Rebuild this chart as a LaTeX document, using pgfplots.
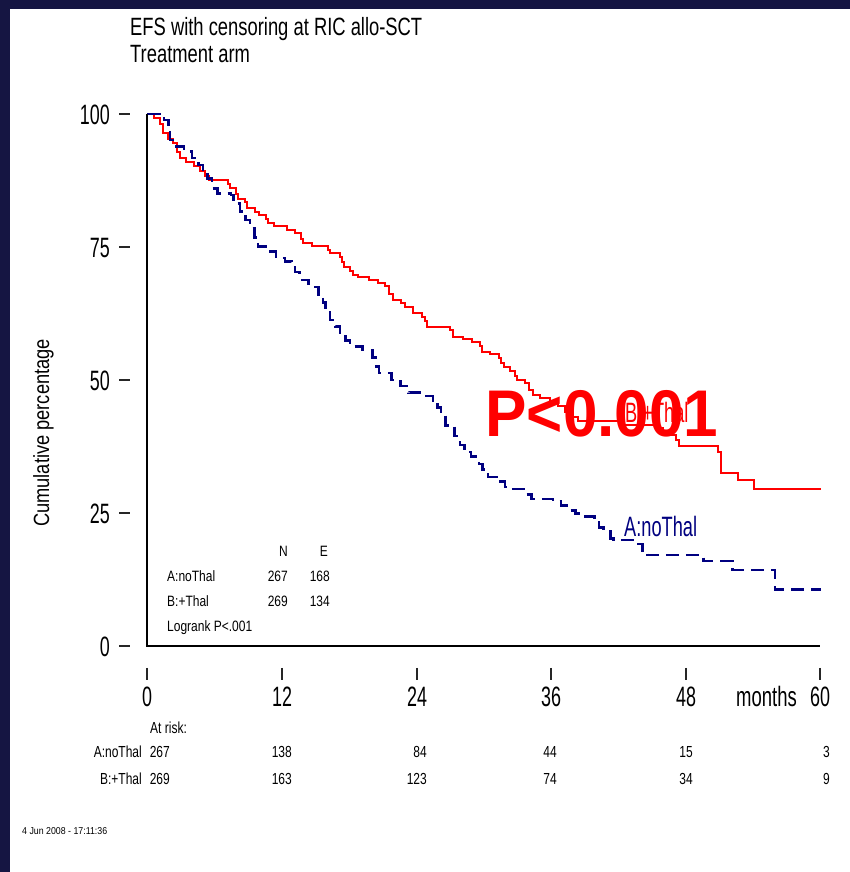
\documentclass[border=0pt]{standalone}
\usepackage{pgfplots}
\pgfplotsset{compat=1.18}
\usepackage{graphicx}
\usepackage{fontspec}
\setmainfont{Liberation Sans}

\definecolor{framecol}{RGB}{21,21,66}
\definecolor{armA}{RGB}{0,0,128}
\definecolor{armB}{RGB}{255,0,0}

% narrow text: size, horizontal squeeze, text
\newcommand{\nt}[3]{{\fontsize{#1}{#1}\selectfont\scalebox{#2}[1]{#3}}}

\begin{document}
\begin{tikzpicture}
\useasboundingbox (0pt,0pt) rectangle (850pt,872pt);
\begin{scope}[x=1pt,y=1pt]
\fill[framecol] (0,0) rectangle (850,872);
\fill[white] (10,0) rectangle (850,863);
\end{scope}

\begin{axis}[
  at={(147pt,226pt)}, anchor=south west,
  scale only axis, width=673pt, height=532pt,
  xmin=0, xmax=60, ymin=0, ymax=100,
  hide axis, clip=false,
]
% B:+Thal
\addplot[const plot, color=armB, line width=2pt] coordinates {
(0,100) (0.6,99.2) (1.2,98.2) (1.4,96.4) (1.9,95.3) (2.3,94.5) (2.7,92.8)
(2.9,91.7) (3.5,91.0) (4.2,90.2) (4.7,89.2) (5.2,88.3) (5.5,87.6) (7.2,86.9)
(7.4,86.0) (7.9,84.9) (8.1,84.1) (8.7,83.5) (8.9,82.3) (9.6,81.6) (10.0,81.0)
(10.6,80.3) (10.8,79.5) (11.3,78.9) (12.5,78.2) (13.2,77.6) (13.7,76.5)
(13.9,75.8) (14.7,75.2) (16.1,74.4) (16.3,73.8) (17.2,73.2) (17.4,72.2)
(17.6,71.3) (18.1,70.4) (18.4,69.8) (18.8,69.3) (19.8,68.8) (20.6,68.2)
(21.2,67.6) (21.6,66.2) (21.9,65.0) (22.6,64.4) (23.0,63.7) (23.7,62.5)
(24.5,61.8) (24.8,61.0) (25.0,60.0) (27.0,59.4) (27.3,58.1) (28.2,57.7)
(29.0,57.1) (29.7,56.3) (29.9,55.3) (30.6,54.8) (31.4,54.1) (31.6,53.2)
(31.8,52.4) (32.4,51.7) (32.8,50.8) (33.0,50.0) (33.7,49.4) (34.1,48.2)
(34.4,47.2) (35.0,46.6) (35.9,46.0) (36.6,45.1) (37.3,44.0) (38.0,43.0)
(38.4,42.2) (42.6,41.6) (45.5,40.9) (46.0,39.7) (47.2,38.7) (47.4,37.6)
(50.9,36.4) (51.2,32.5) (52.7,31.2) (54.1,29.5) (60.1,29.5)
};
% A:noThal
\addplot[const plot, color=armA, line width=2.6pt, dash pattern=on 13pt off 7pt] coordinates {
(0,100) (1.1,99.5) (1.5,98.9) (1.9,97.6) (2.05,95.1) (2.6,93.9) (3.3,93.0)
(4.0,91.7) (4.6,90.4) (5.0,89.2) (5.4,87.9) (5.8,86.0) (6.3,85.1) (7.5,84.8)
(7.7,83.2) (8.3,81.7) (8.8,80.1) (9.2,78.5) (9.6,76.8) (9.9,75.1) (10.6,74.1)
(11.5,72.9) (12.3,72.3) (12.9,71.2) (13.2,70.3) (13.6,68.8) (14.4,67.5)
(15.3,66.0) (15.7,64.6) (15.9,63.2) (16.3,61.3) (16.8,60.1) (17.2,58.8)
(17.7,57.4) (18.1,56.3) (19.2,55.6) (20.1,54.2) (20.4,52.5) (20.7,51.3)
(21.8,50.0) (22.6,48.9) (23.3,47.6) (24.7,47.0) (25.5,46.2) (25.9,44.8)
(26.2,43.5) (26.6,41.5) (27.4,39.5) (27.9,37.8) (28.3,36.5) (28.9,35.6)
(29.6,34.2) (29.9,33.2) (30.4,31.8) (31.2,30.9) (31.9,29.9) (32.2,29.5)
(33.6,28.5) (34.3,27.6) (36.2,27.2) (36.9,26.4) (37.6,25.5) (38.2,24.9)
(39.1,24.3) (39.9,23.2) (40.3,22.3) (40.7,21.5) (41.3,20.2) (41.6,19.9)
(43.3,19.2) (44.2,18.0) (44.6,17.1) (49.6,16.0) (52.2,14.3) (56.0,10.6)
(60.1,10.6)
};
\end{axis}

\begin{scope}[x=1pt,y=1pt]
% axis lines
\draw[line width=2.4pt] (147,758) -- (147,226) -- (820,226);

% y ticks and labels
\foreach \yy/\lab in {758/100, 625/75, 492/50, 359/25, 226/0} {
  \draw[line width=1.6pt, black!85] (119,\yy) -- (130,\yy);
  \node[anchor=base east, inner sep=0] at (110,\yy-11) {\nt{28}{0.64}{\lab}};
}
% x ticks and labels
\foreach \xx/\lab in {147/0, 282/12, 417/24, 551/36, 686/48, 820/60} {
  \draw[line width=1.6pt, black!85] (\xx,204) -- (\xx,192);
  \node[anchor=base, inner sep=0] at (\xx,165) {\nt{28}{0.64}{\lab}};
}
\node[anchor=base east, inner sep=0] at (797,165) {\nt{28}{0.66}{months}};

% axis title
\node[rotate=90, anchor=base, inner sep=0] at (49,439) {\nt{22}{0.83}{Cumulative percentage}};

% plot title
\node[anchor=base west, inner sep=0] at (130,836) {\nt{25}{0.735}{EFS with censoring at RIC allo-SCT}};
\node[anchor=base west, inner sep=0] at (130,809) {\nt{25}{0.735}{Treatment arm}};

% summary table
\node[anchor=base east, inner sep=0] at (288,315) {\nt{15}{0.8}{N}};
\node[anchor=base east, inner sep=0] at (328,315) {\nt{15}{0.8}{E}};
\node[anchor=base west, inner sep=0] at (167,290) {\nt{15}{0.8}{A:noThal}};
\node[anchor=base east, inner sep=0] at (288,290) {\nt{15}{0.8}{267}};
\node[anchor=base east, inner sep=0] at (330,290) {\nt{15}{0.8}{168}};
\node[anchor=base west, inner sep=0] at (167,265) {\nt{15}{0.8}{B:+Thal}};
\node[anchor=base east, inner sep=0] at (288,265) {\nt{15}{0.8}{269}};
\node[anchor=base east, inner sep=0] at (330,265) {\nt{15}{0.8}{134}};
\node[anchor=base west, inner sep=0] at (167,240) {\nt{15}{0.8}{Logrank P<.001}};

% curve labels
\node[anchor=base west, inner sep=0, text=armA] at (624,335) {\nt{28}{0.65}{A:noThal}};
\node[anchor=base west, inner sep=1pt, fill=white, text=armB] at (624,449) {\nt{28}{0.65}{B:+Thal}};
\node[anchor=center, inner sep=0, text=armB] at (602,458) {\fontsize{66}{66}\selectfont\bfseries\scalebox{0.94}[1]{P<0.001}};

% numbers at risk
\node[anchor=base west, inner sep=0] at (150,138) {\nt{16}{0.75}{At risk:}};
\node[anchor=base east, inner sep=0] at (142,114) {\nt{16}{0.75}{A:noThal}};
\node[anchor=base east, inner sep=0] at (142,87) {\nt{16}{0.75}{B:+Thal}};
\foreach \xx/\a/\b in {170/267/269, 292/138/163, 427/84/123, 557/44/74, 693/15/34, 830/3/9} {
  \node[anchor=base east, inner sep=0] at (\xx,114) {\nt{16}{0.75}{\a}};
  \node[anchor=base east, inner sep=0] at (\xx,87) {\nt{16}{0.75}{\b}};
}

% time stamp
\node[anchor=base west, inner sep=0] at (22,37) {\nt{10}{0.88}{4 Jun 2008 - 17:11:36}};
\end{scope}
\end{tikzpicture}
\end{document}
